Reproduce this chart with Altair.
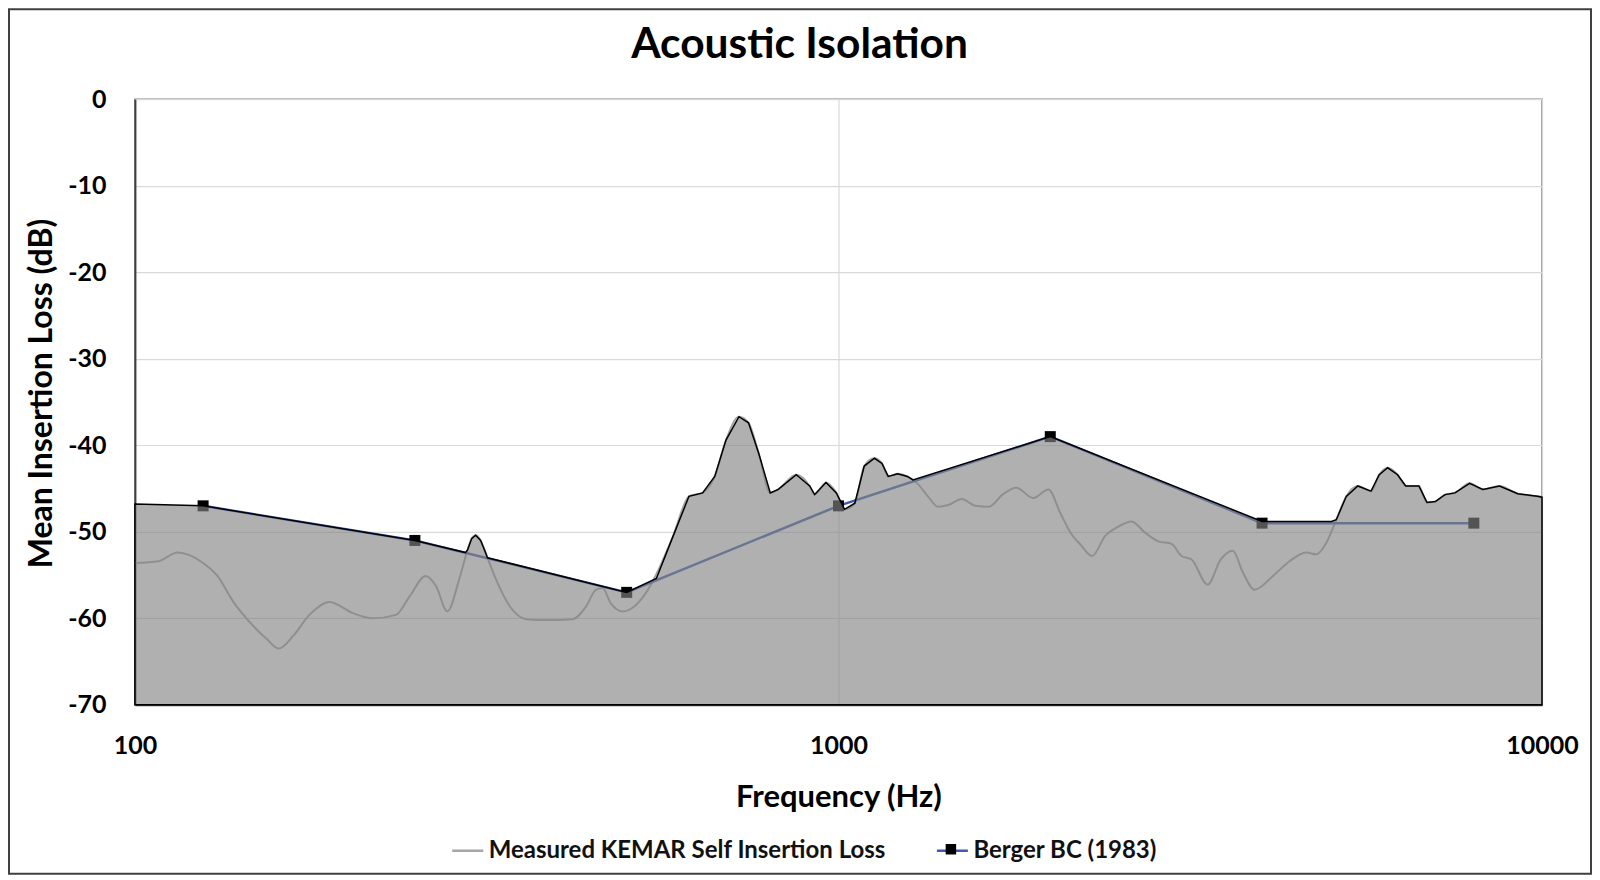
import altair as alt
import pandas as pd

KEMAR = 'Measured KEMAR Self Insertion Loss'
BERGER = 'Berger BC (1983)'

# measured KEMAR self insertion loss (Hz, dB)
kemar_freq = [100, 108, 115, 125, 131, 138, 147, 154, 160, 168,
              177, 189, 204, 218, 235, 246, 259, 268, 278, 289,
              297, 301, 305, 310, 314, 326, 341, 360, 384, 419,
              438, 452, 462, 475, 494, 513, 533, 551, 582, 613,
              641, 667, 692, 722, 745, 770, 800, 821, 871, 910,
              925, 960, 993, 1020, 1055, 1088, 1125, 1153, 1177, 1214,
              1253, 1294, 1340, 1385, 1433, 1497, 1565, 1636, 1711, 1789,
              1891, 1988, 2066, 2137, 2209, 2293, 2393, 2499, 2610, 2727,
              2848, 2975, 3073, 3176, 3346, 3495, 3634, 3757, 3904, 4145,
              4377, 4622, 4776, 4935, 5100, 5270, 5472, 5714, 5870, 6034,
              6233, 6402, 6682, 6863, 7050, 7280, 7520, 7890, 8240, 8700,
              9240, 9850, 10000]
kemar_db = [-53.6, -53.4, -52.4, -53.6, -55.1, -58.1, -60.8, -62.4, -63.5, -62.0,
            -59.6, -58.1, -59.4, -60.0, -59.6, -57.4, -55.1, -56.3, -59.2, -55.5,
            -52.1, -50.8, -50.4, -51.0, -52.1, -55.5, -58.6, -60.1, -60.2, -60.1,
            -58.6, -56.7, -56.5, -58.3, -59.2, -58.6, -57.0, -54.9, -50.5, -45.9,
            -45.5, -43.6, -39.4, -36.7, -37.4, -40.9, -45.5, -45.1, -43.4, -44.7,
            -45.7, -44.3, -45.5, -47.4, -46.7, -42.4, -41.5, -42.1, -43.6, -43.3,
            -43.6, -44.4, -45.9, -47.1, -46.9, -46.2, -47.0, -47.1, -45.7, -44.9,
            -46.1, -45.1, -47.8, -50.1, -51.5, -52.8, -50.5, -49.4, -48.8, -50.1,
            -51.1, -51.4, -52.8, -53.2, -56.1, -53.2, -52.2, -54.7, -56.7, -55.1,
            -53.4, -52.4, -52.6, -51.3, -48.6, -45.9, -44.7, -45.3, -43.4, -42.6,
            -43.4, -44.7, -44.7, -46.6, -46.5, -45.7, -45.5, -44.4, -45.1, -44.7,
            -45.6, -45.9, -46.0]

# Berger BC (1983) octave band values
berger_freq = [125, 250, 500, 1000, 2000, 4000, 8000]
berger_db = [-47, -51, -57, -47, -39, -49, -49]

# upper edge of the shaded region
shade_freq = [100, 125, 250, 295, 297, 301, 305, 310, 314, 317,
              500, 551, 582, 613, 641, 667, 692, 722, 745, 770,
              800, 821, 871, 910, 925, 960, 993, 1020, 1055, 1088,
              1125, 1153, 1177, 1214, 1253, 1276, 2000, 4000, 5020, 5100,
              5270, 5472, 5714, 5870, 6034, 6233, 6402, 6682, 6863, 7050,
              7280, 7520, 7890, 8240, 8700, 9240, 9850, 10000]
shade_db = [-46.8, -47.0, -51.0, -52.4, -52.1, -50.8, -50.4, -51.0, -52.1, -53.0,
            -57.0, -55.4, -50.5, -45.9, -45.5, -43.6, -39.4, -36.7, -37.4, -40.9,
            -45.5, -45.1, -43.4, -44.7, -45.7, -44.3, -45.5, -47.4, -46.7, -42.4,
            -41.5, -42.1, -43.6, -43.3, -43.6, -44.0, -39.0, -48.8, -48.8, -48.6,
            -45.9, -44.7, -45.3, -43.4, -42.6, -43.4, -44.7, -44.7, -46.6, -46.5,
            -45.7, -45.5, -44.4, -45.1, -44.7, -45.6, -45.9, -46.0]

x_ticks = [100, 1000, 10000]
y_ticks = [-70, -60, -50, -40, -30, -20, -10, 0]

kemar_df = pd.DataFrame({'freq': kemar_freq, 'db': kemar_db, 'series': KEMAR})
berger_df = pd.DataFrame({'freq': berger_freq, 'db': berger_db, 'series': BERGER,
                          'marker': 'marker'})
shade_df = pd.DataFrame({'freq': shade_freq, 'db': shade_db})

FONT = 'Lato'
W, H = 1408, 606
LEG_Y = 735

x = alt.X('freq:Q',
          scale=alt.Scale(type='log', domain=[100, 10000], nice=False),
          axis=alt.Axis(values=x_ticks, title='Frequency (Hz)', labelExpr="datum.value + ''",
                        ticks=False, labelFlush=False, labelOverlap=False,
                        labelBaseline='alphabetic', labelPadding=49, titleFontSize=31,
                        titleY=102, titleBaseline='alphabetic'))
y = alt.Y('db:Q',
          scale=alt.Scale(domain=[-70, 0], nice=False, zero=False),
          axis=alt.Axis(values=y_ticks, title='Mean Insertion Loss (dB)', labelExpr="datum.value + ''",
                        ticks=False, labelFlush=False, labelOverlap=False, labelPadding=29,
                        titleFontSize=32, titleX=-93, titleY=294, titleBaseline='middle'))


def legend(x_pos, y_pos=LEG_Y, **kw):
    opts = dict(title=None, orient='none', legendX=x_pos, legendY=y_pos,
                direction='horizontal', padding=0, labelFont=FONT, labelFontSize=24,
                labelFontWeight='bold', labelColor='#111111', labelOffset=4, labelLimit=0)
    opts.update(kw)
    return alt.Legend(**opts)


kemar_line = alt.Chart(kemar_df).mark_line(strokeWidth=2, interpolate='monotone').encode(
    x=x, y=y,
    color=alt.Color('series:N', scale=alt.Scale(domain=[KEMAR], range=['#a5a5a5']),
                    legend=legend(316, symbolType='stroke', symbolSize=961, symbolStrokeWidth=2.5)))

berger_line = alt.Chart(berger_df).mark_line(strokeWidth=2.5).encode(
    x=x, y=y,
    stroke=alt.Stroke('series:N', scale=alt.Scale(domain=[BERGER], range=['#3f5bb0']),
                      legend=legend(801, symbolType='stroke', symbolSize=961, symbolStrokeWidth=2.5)))

# marker legend sits on the middle of the Berger line symbol, no label of its own
berger_pts = alt.Chart(berger_df).mark_point(size=121, filled=True, color='#000000', opacity=1).encode(
    x=x, y=y,
    shape=alt.Shape('marker:N', scale=alt.Scale(domain=['marker'], range=['square']),
                    legend=legend(811, LEG_Y + 10, symbolSize=110, symbolFillColor='#000000',
                                  symbolStrokeWidth=0, labelExpr="''", labelFontSize=1,
                                  labelOffset=0)))

shade = alt.Chart(shade_df).mark_area(
    fill='#848484', fillOpacity=0.64, stroke='#000000', strokeWidth=1.5
).encode(x=x, y=y, y2=alt.datum(-70))

frame = alt.Chart(alt.Data(values=[{}])).mark_rect(
    fillOpacity=0, stroke='#404040', strokeWidth=2, clip=False
).encode(x=alt.value(-126), x2=alt.value(W + 49), y=alt.value(-90), y2=alt.value(H + 169))

chart = alt.layer(kemar_line, berger_line, berger_pts, shade, frame).properties(
    width=W, height=H,
    autosize=alt.AutoSizeParams(type='none'),
    padding={'left': 127, 'top': 91, 'right': 50, 'bottom': 170},
    background='white',
    title=alt.TitleParams('Acoustic Isolation', font=FONT, fontSize=42.5, fontWeight='bold',
                          color='#000000', anchor='middle', frame='group', dx=-39, dy=92,
                          baseline='alphabetic', offset=0)
).configure_axis(
    labelFont=FONT, labelFontSize=25, labelFontWeight='bold', labelColor='#000000',
    titleFont=FONT, titleFontWeight='bold', titleColor='#000000',
    gridColor='#d9d9d9', gridWidth=1.2, domainColor='#404040', domainWidth=2
).configure_view(stroke='#7f7f7f', strokeWidth=1.5)

chart.save('out.html', embed_options={'renderer': 'svg', 'actions': False})
